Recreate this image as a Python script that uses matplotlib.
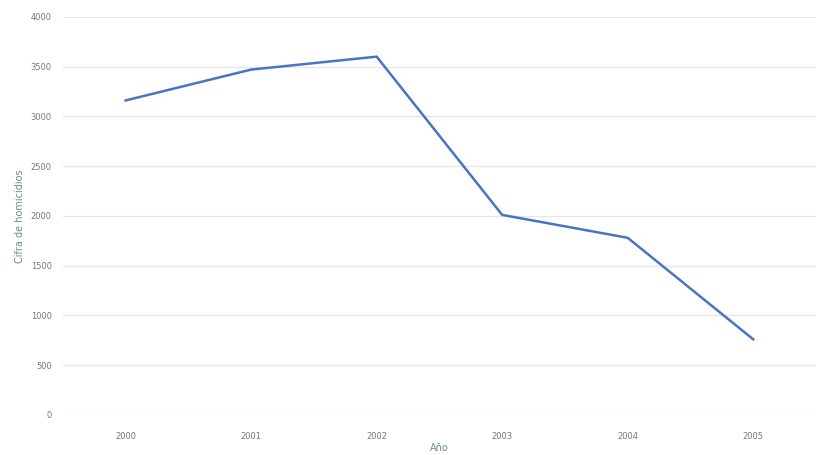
import matplotlib.pyplot as plt

years = ['2000', '2001', '2002', '2003', '2004', '2005']
homicidios = [3160, 3470, 3600, 2010, 1780, 760]
yticks = [0, 500, 1000, 1500, 2000, 2500, 3000, 3500, 4000]

fig = plt.figure(figsize=(8.16, 4.55), dpi=100)
ax = fig.add_axes([0.077, 0.088, 0.923, 0.875])

ax.plot(range(len(years)), homicidios, color='#4a74c2', linewidth=1.8)

ax.set_xlim(-0.5, len(years) - 0.5)
ax.set_ylim(0, 4000)
ax.set_yticks(yticks)
ax.set_xticks(range(len(years)))
ax.set_xticklabels(years)

# rejilla suave, sin bordes
ax.grid(axis='y', color='#e6e6e6', linewidth=1)
ax.set_axisbelow(True)
for s in ax.spines.values():
    s.set_visible(False)
ax.tick_params(length=0, labelsize=6, colors='#777777', pad=8)
ax.tick_params(axis='x', pad=12)

ax.set_xlabel('Año', fontsize=7, color='#6f8a8a', labelpad=2)
ax.set_ylabel('Cifra de homicidios', fontsize=7, color='#6f8a8a', labelpad=4)

fig.savefig('out.png', dpi=100)
